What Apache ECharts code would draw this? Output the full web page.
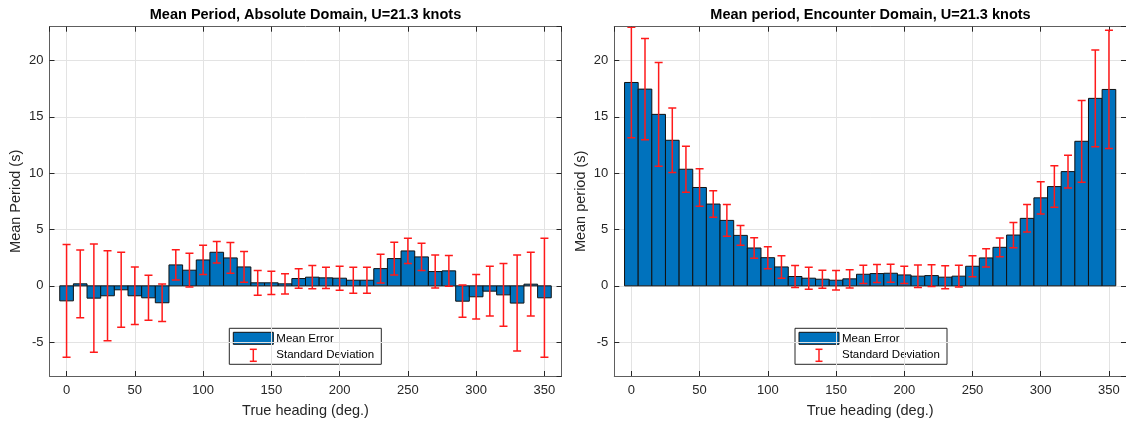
<!DOCTYPE html>
<html><head><meta charset="utf-8">
<script src="https://cdn.jsdelivr.net/npm/echarts@6/dist/echarts.min.js"></script>
<style>html,body{margin:0;padding:0;background:#fff}#c{width:1126px;height:423px}</style>
</head><body><div id="c"></div><script>
const headings = [0,10,20,30,40,50,60,70,80,90,100,110,120,130,140,150,160,170,180,190,200,210,220,230,240,250,260,270,280,290,300,310,320,330,340,350];
const absMean = [-1.33,0.18,-1.09,-0.88,-0.35,-0.88,-1.06,-1.5,1.86,1.39,2.3,2.98,2.48,1.68,0.27,0.27,0.18,0.65,0.77,0.71,0.68,0.5,0.5,1.53,2.42,3.1,2.57,1.27,1.33,-1.36,-0.97,-0.47,-0.8,-1.53,0.15,-1.06];
const absStd = [5.0,3.0,4.8,4.0,3.33,2.55,2.0,1.66,1.35,1.5,1.3,0.96,1.37,1.36,1.1,1.03,0.9,0.87,1.03,0.95,1.07,1.15,1.15,1.27,1.45,1.12,1.21,1.47,1.37,1.43,1.97,2.2,2.79,4.26,2.83,5.28];
const encMean = [18.05,17.46,15.22,12.92,10.35,8.73,7.26,5.81,4.48,3.36,2.5,1.68,0.83,0.68,0.59,0.5,0.62,1.03,1.09,1.12,0.97,0.86,0.91,0.77,0.86,1.74,2.48,3.42,4.51,5.99,7.81,8.81,10.14,12.83,16.64,17.43];
const encStd = [4.9,4.5,4.6,2.87,2.05,1.67,1.17,1.4,0.88,0.92,0.98,1.0,0.98,0.97,0.8,0.87,0.81,0.81,0.8,0.8,0.77,1.0,0.96,1.02,0.96,0.94,0.81,0.83,1.12,1.22,1.43,1.84,1.45,3.63,4.3,5.25];
const titles = ['Mean Period, Absolute Domain, U=21.3 knots', 'Mean period, Encounter Domain, U=21.3 knots'];
const yNames = ['Mean Period (s)', 'Mean period (s)'];
const xName = 'True heading (deg.)';
const legendNames = ['Mean Error', 'Standard Deviation'];
const BAR_W = 10;

const FONT = '"Liberation Sans", Arial, Helvetica, sans-serif';
const TXT = '#262626';
const grids = [
  {left: 49.5, top: 26.7, width: 512, height: 351.6},
  {left: 614.3, top: 26.7, width: 512.5, height: 351.6}
];

function xAxis(gi, pos, main) {
  return {
    type: 'value', gridIndex: gi, position: pos, min: -12.5, max: 362.5, splitNumber: 7,
    axisLine: {show: true, onZero: false, lineStyle: {color: '#5e5e5e', width: 1}},
    axisTick: {show: true, inside: true, length: 5, lineStyle: {color: '#262626', width: 1}},
    axisLabel: {show: main, showMinLabel: false, showMaxLabel: false, color: TXT, fontSize: 13, fontFamily: FONT, margin: 8},
    splitLine: {show: main, lineStyle: {color: '#e3e3e3', width: 1}},
    name: main ? xName : '', nameLocation: 'middle', nameGap: 27,
    nameTextStyle: {color: TXT, fontSize: 14.5, fontFamily: FONT}
  };
}
function yAxis(gi, pos, main) {
  return {
    type: 'value', gridIndex: gi, position: pos, min: -8, max: 23,
    axisLine: {show: true, onZero: false, lineStyle: {color: '#5e5e5e', width: 1}},
    axisTick: {show: true, inside: true, length: 5, lineStyle: {color: '#262626', width: 1}},
    axisLabel: {show: main, showMinLabel: false, showMaxLabel: false, color: TXT, fontSize: 13, fontFamily: FONT, margin: 6},
    splitLine: {show: main, lineStyle: {color: '#e3e3e3', width: 1}},
    name: main ? yNames[gi] : '', nameLocation: 'middle', nameGap: 26, nameRotate: 90,
    nameTextStyle: {color: TXT, fontSize: 14.5, fontFamily: FONT}
  };
}

function barRender(params, api) {
  const x = api.value(0), v = api.value(1);
  const p0 = api.coord([x - BAR_W / 2, 0]);
  const p1 = api.coord([x + BAR_W / 2, v]);
  return {type: 'rect', shape: {x: p0[0], y: Math.min(p0[1], p1[1]), width: p1[0] - p0[0], height: Math.abs(p1[1] - p0[1])},
    style: {fill: '#0072BD', stroke: '#111', lineWidth: 1}};
}
function errRender(params, api) {
  const x = api.value(0), m = api.value(1), s = api.value(2);
  const t = api.coord([x, m + s]);
  const b = api.coord([x, m - s]);
  const c = 4;
  const st = {stroke: '#ff1a1a', lineWidth: 1.5};
  return {type: 'group', children: [
    {type: 'line', shape: {x1: t[0], y1: t[1], x2: b[0], y2: b[1]}, style: st},
    {type: 'line', shape: {x1: t[0] - c, y1: t[1], x2: t[0] + c, y2: t[1]}, style: st},
    {type: 'line', shape: {x1: b[0] - c, y1: b[1], x2: b[0] + c, y2: b[1]}, style: st}
  ]};
}

const sets = [[absMean, absStd], [encMean, encStd]];
const series = [];
sets.forEach((s, gi) => {
  const data = headings.map((h, i) => [h, s[0][i], s[1][i]]);
  series.push({type: 'custom', name: legendNames[0], xAxisIndex: gi * 2, yAxisIndex: gi * 2, renderItem: barRender, data: data, clip: true, z: 2});
  series.push({type: 'custom', name: legendNames[1], xAxisIndex: gi * 2, yAxisIndex: gi * 2, renderItem: errRender, data: data, clip: true, z: 3});
});

function legendGroup(x, y) {
  return {type: 'group', x: x, y: y, z: 100, children: [
    {type: 'rect', shape: {x: 0, y: 0, width: 152, height: 36}, style: {fill: '#fff', stroke: '#262626', lineWidth: 1}},
    {type: 'rect', shape: {x: 4, y: 4, width: 40, height: 12}, style: {fill: '#0072BD', stroke: '#111', lineWidth: 1}},
    {type: 'text', style: {x: 47, y: 10.5, text: legendNames[0], font: '11.5px ' + FONT, fill: '#000', textVerticalAlign: 'middle'}},
    {type: 'line', shape: {x1: 24, y1: 21, x2: 24, y2: 33}, style: {stroke: '#ff1a1a', lineWidth: 1.5}},
    {type: 'line', shape: {x1: 20.5, y1: 21, x2: 27.5, y2: 21}, style: {stroke: '#ff1a1a', lineWidth: 1.5}},
    {type: 'line', shape: {x1: 20.5, y1: 33, x2: 27.5, y2: 33}, style: {stroke: '#ff1a1a', lineWidth: 1.5}},
    {type: 'text', style: {x: 47, y: 27, text: legendNames[1], font: '11.5px ' + FONT, fill: '#000', textVerticalAlign: 'middle'}}
  ]};
}

const chart = echarts.init(document.getElementById('c'), null, {renderer: 'canvas'});
chart.setOption({
  animation: false,
  backgroundColor: '#fff',
  grid: grids.map(g => Object.assign({containLabel: false}, g)),
  xAxis: [xAxis(0, 'bottom', true), xAxis(0, 'top', false), xAxis(1, 'bottom', true), xAxis(1, 'top', false)],
  yAxis: [yAxis(0, 'left', true), yAxis(0, 'right', false), yAxis(1, 'left', true), yAxis(1, 'right', false)],
  series: series,
  graphic: [
    {type: 'text', z: 100, style: {x: 305.5, y: 15, text: titles[0], font: 'bold 14.5px ' + FONT, fill: '#000', textAlign: 'center', textVerticalAlign: 'middle'}},
    {type: 'text', z: 100, style: {x: 870.5, y: 15, text: titles[1], font: 'bold 14.5px ' + FONT, fill: '#000', textAlign: 'center', textVerticalAlign: 'middle'}},
    legendGroup(229.3, 328.3),
    legendGroup(795, 328.3)
  ]
});
</script></body></html>
